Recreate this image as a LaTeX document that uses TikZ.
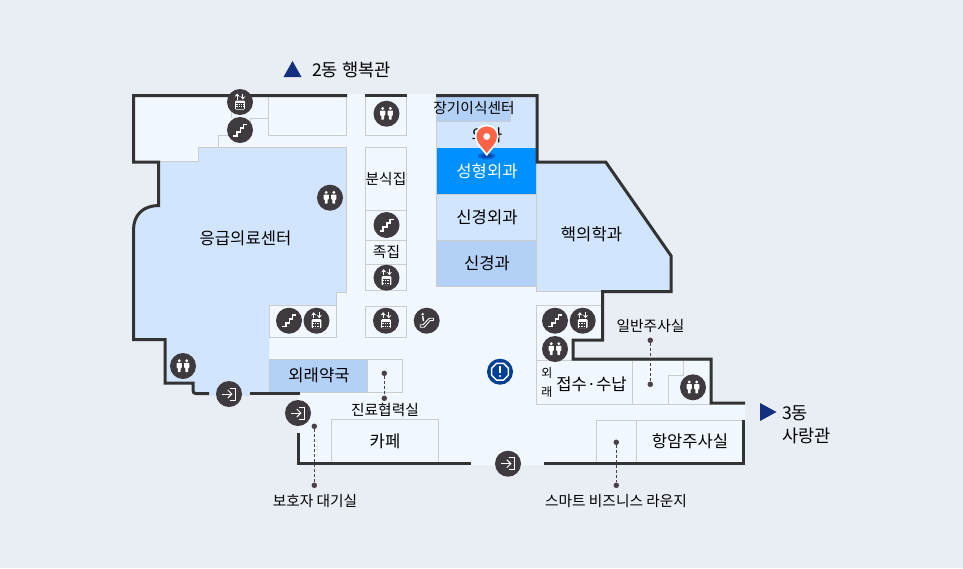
\documentclass[tikz,border=0pt]{standalone}
\usepackage{fontspec}
\setmainfont{Noto Sans CJK KR}
\usetikzlibrary{arrows.meta}
\definecolor{bgc}{HTML}{E9EDF4}
\definecolor{floorc}{HTML}{F1F8FF}
\definecolor{blueA}{HTML}{D1E5FF}
\definecolor{blueB}{HTML}{B3D1F6}
\definecolor{blueC}{HTML}{0090FF}
\definecolor{wallc}{HTML}{333333}
\definecolor{roomc}{HTML}{CCCCCC}
\definecolor{iconc}{HTML}{3E3A3F}
\definecolor{infoc}{HTML}{003F94}
\definecolor{navyc}{HTML}{13307F}
\definecolor{pinc}{HTML}{FF6347}
\definecolor{leadc}{HTML}{4A4148}
\tikzset{
  x=1pt,y=-1pt,
  wall/.style={draw=wallc,line width=3pt,miter limit=10},
  room/.style={draw=roomc,line width=1pt},
  lab/.style={font=\fontsize{16.6}{18}\selectfont,text=black,inner sep=0pt},
  slab/.style={font=\fontsize{14.7}{16}\selectfont,text=black,inner sep=0pt},
  blab/.style={font=\fontsize{17.6}{19}\selectfont,text=black,inner sep=0pt},
  icon/.style={circle,fill=iconc,minimum size=26pt,inner sep=0pt},
  dotn/.style={circle,fill=leadc,minimum size=5.5pt,inner sep=0pt},
  lead/.style={draw=leadc,line width=.9pt,dash pattern=on 3pt off 2pt},
  pics/stairg/.style={code={
    \draw[white,line width=1.8pt,line join=miter] (-7,5.8)--(-3.2,5.8)--(-3.2,1.9)--(.5,1.9)--(.5,-2)--(3.4,-2)--(3.4,-5.6)--(7.2,-5.6);}},
  pics/elevg/.style={code={
    \fill[white,rounded corners=1pt] (-4.8,-1.5) rectangle (4.8,7.5);
    \foreach \yy in {1.6,3.2,4.8,6.2}{\draw[iconc,line width=.35pt] (-3.6,\yy)--(3.6,\yy);}
    \foreach \xx in {-2.2,0,2.2}{\draw[iconc,line width=.35pt] (\xx,1.6)--(\xx,6.2);}
    \draw[white,line width=1pt,-{Stealth[length=3.2pt,width=5pt]}] (-2.8,-2.5)--(-2.8,-8.5);
    \draw[white,line width=1pt,-{Stealth[length=3.2pt,width=5pt]}] (2.8,-8.5)--(2.8,-2.5);}},
  pics/toiletg/.style={code={
    \foreach \xx in {-3.8,3.8}{
      \fill[white] (\xx,-5.3) circle (1.6);
      \fill[white,rounded corners=.6pt] (\xx-2.6,-3.2)--(\xx+2.6,-3.2)--(\xx+2.6,1.8)--(\xx+1.4,1.8)--(\xx+1.4,6)--(\xx-1.4,6)--(\xx-1.4,1.8)--(\xx-2.6,1.8)--cycle;}}},
  pics/exitg/.style={code={
    \draw[white,line width=1pt,-{Straight Barb[length=4pt,width=8pt]}] (-7,0)--(3.5,0);
    \draw[white,line width=1pt] (.5,-6)--(6.5,-6)--(6.5,6)--(.5,6);}},
  pics/escg/.style={code={
    \draw[white,line width=.9pt,line join=round] (-6.5,4)--(-3.5,4)--(2.5,-2.5)--(6.8,-2.5)--(6.8,-.2)--(3.5,-.2)--(-2.5,6.5)--(-6.5,6.5)--cycle;
    \fill[white] (-4,-6.5) circle (1.3);
    \draw[white,line width=1.4pt] (-4,-4.6)--(-3.2,.5);}}
}
\begin{document}
\begin{tikzpicture}
\useasboundingbox (0,0) rectangle (963,568);
\fill[bgc] (0,0) rectangle (963,568);
% floor
\fill[floorc] (133.5,95.5)--(347,95.5)--(347,94)--(436,94)--(436,95.5)--(537,95.5)--(537,162)--(605.7,162)--(671,255.7)--(671,291.7)--(602.7,291.7)--(602.7,340)--(573,340)--(573,359)--(711,359)--(711,403)--(745,403)--(745,463.5)--(544,463.5)--(544,465)--(471,465)--(471,463.5)--(298,463.5)--(298,393.5)--(193,393.5)--(193,383)--(165,383)--(165,339.5)--(133.5,339.5)--(133.5,230) .. controls (133.5,215) and (143,205.6) .. (158.5,205.6)--(158.5,162)--(133.5,162)--cycle;
% blue zones
\fill[blueA] (158.5,162)--(198,162)--(198,147.5)--(346.7,147.5)--(346.7,292.3)--(336.7,292.3)--(336.7,305)--(269.3,305)--(269.3,393.5)--(250,393.5)--(250,396)--(209,396)--(209,393.5)--(193,393.5)--(193,383)--(165,383)--(165,339.5)--(133.5,339.5)--(133.5,230) .. controls (133.5,215) and (143,205.6) .. (158.5,205.6)--cycle;
\fill[blueA] (436,95.5) rectangle (537,148);
\fill[blueB] (436,97) rectangle (510.7,121.7);
\draw[roomc,line width=.8pt] (436,121.7)--(510.7,121.7)--(510.7,97);
\fill[blueC] (436,148) rectangle (536,194);
\fill[blueA] (436,194) rectangle (536,240);
\fill[blueB] (436,240) rectangle (536,286.3);
\fill[blueA] (536,163)--(605.7,163)--(671,255.7)--(671,291.7)--(536,291.7)--cycle;
\fill[blueB] (269.3,359) rectangle (367.7,392.3);
% room lines
\draw[room] (436,95.5)--(436,286.3)--(536,286.3);
\draw[room] (436,194)--(536,194) (436,240)--(536,240);
\draw[room] (536,163)--(536,291.7)--(602.7,291.7);
\draw[room] (158.5,161.5)--(198,161.5)--(198,147.5)--(346.7,147.5)--(346.7,292.3)--(336.7,292.3)--(336.7,337.3)--(269.3,337.3)--(269.3,305)--(336.7,305);
\draw[room] (231.7,95)--(231.7,118);
\draw[room] (268.3,95)--(268.3,135)--(346.7,135)--(346.7,95);
\draw[room] (250,125)--(250,118)--(268.3,118);
\draw[room] (228,135.7)--(218,135.7)--(218,147.5);
\draw[room] (365.5,95) rectangle (406.7,135);
\draw[room] (365.5,147.3) rectangle (406.7,290.3);
\draw[room] (365.5,210)--(406.7,210) (365.5,240)--(406.7,240) (365.5,264.3)--(406.7,264.3);
\draw[room] (365.3,306) rectangle (406.7,337.3);
\draw[room] (269.3,359) rectangle (402.3,392.3);
\draw[room] (367.7,359)--(367.7,392.3);
\draw[room] (331.3,463)--(331.3,419.3)--(438.3,419.3)--(438.3,463);
\draw[room] (536.3,360)--(536.3,305.3)--(602.7,305.3);
\draw[room] (536.3,360)--(573,360);
\draw[room] (536.3,360)--(536.3,404.3)--(711,404.3);
\draw[room] (573,360)--(711,360);
\draw[room] (632.3,360)--(632.3,404.3);
\draw[room] (668.3,404.3)--(668.3,375.3)--(683.3,375.3)--(683.3,360);
\draw[room] (596.3,463)--(596.3,420.3)--(744,420.3);
\draw[room] (636.3,420.3)--(636.3,463);
% walls
\draw[wall] (347,95.5)--(133.5,95.5)--(133.5,162)--(158.5,162)--(158.5,205.6) .. controls (143,205.6) and (133.5,215) .. (133.5,230)--(133.5,339.5)--(165,339.5)--(165,383)--(193,383)--(193,390.5) .. controls (193,392.5) and (194,393.5) .. (196,393.5)--(209,393.5);
\draw[wall] (250,393.5)--(299.5,393.5);
\draw[wall] (365,95.5)--(407,95.5);
\draw[wall] (436,95.5)--(537,95.5)--(537,162)--(605.7,162)--(671,255.7)--(671,291.7)--(602.7,291.7)--(602.7,340)--(573,340)--(573,359)--(711,359)--(711,403)--(745,403);
\draw[wall] (743.5,420)--(743.5,463.5)--(544,463.5);
\draw[wall] (471,463.5)--(298,463.5)--(298,433);
% icons
\node[icon] (el1) at (240,102) {}; \pic at (el1) {elevg};
\node[icon] (st1) at (240,130) {}; \pic at (st1) {stairg};
\node[icon] (to1) at (386.5,113.7) {}; \pic at (to1) {toiletg};
\node[icon] (to2) at (330,197.7) {}; \pic at (to2) {toiletg};
\node[icon] (st2) at (386.5,225) {}; \pic at (st2) {stairg};
\node[icon] (el2) at (386.5,277.7) {}; \pic at (el2) {elevg};
\node[icon] (st3) at (289,320.7) {}; \pic at (st3) {stairg};
\node[icon] (el3) at (316.5,320.7) {}; \pic at (el3) {elevg};
\node[icon] (el4) at (386,320.7) {}; \pic at (el4) {elevg};
\node[icon] (es1) at (426.7,320.7) {}; \pic at (es1) {escg};
\node[icon] (to3) at (183,366) {}; \pic at (to3) {toiletg};
\node[icon] (ex1) at (229,394) {}; \pic at (ex1) {exitg};
\node[icon] (ex2) at (298,413) {}; \pic at (ex2) {exitg};
\node[icon] (ex3) at (508,463.7) {}; \pic at (ex3) {exitg};
\node[icon] (st4) at (555,320.7) {}; \pic at (st4) {stairg};
\node[icon] (el5) at (582.7,320.7) {}; \pic at (el5) {elevg};
\node[icon] (to4) at (555,349) {}; \pic at (to4) {toiletg};
\node[icon] (to5) at (693,387.3) {}; \pic at (to5) {toiletg};
\node[circle,fill=infoc,minimum size=26pt,inner sep=0pt] (inf) at (500,371.7) {};
\draw[white,line width=1.5pt] (496.5,363.3)--(503.5,363.3)--(508.4,368.2)--(508.4,375.2)--(503.5,380.1)--(496.5,380.1)--(491.6,375.2)--(491.6,368.2)--cycle;
\fill[white] (499,366.3) rectangle (501,373);
\fill[white] (500,376) circle (1.2);
% labels
\node[lab] (n1) at (245.5,238.5) {응급의료센터};
\node[slab] (n2) at (386,178.5) {분식집};
\node[slab] (n3) at (386.5,252) {족집};
\node[lab] (n4) at (487,135) {외과};
\node[slab] (n5) at (474,108) {장기이식센터};
\node[lab,text=white] (n6) at (487,171.5) {성형외과};
\node[lab] (n7) at (487,217.5) {신경외과};
\node[lab] (n8) at (487,263.5) {신경과};
\node[lab] (n9) at (591.5,234.5) {핵의학과};
\node[lab] (n10) at (319,375.5) {외래약국};
\node[lab] (n11) at (385,441) {카페};
\node[lab] (n12) at (690,441.5) {항암주사실};
\node[lab] (n13) at (591.5,384.5) {접수·수납};
\node[font=\fontsize{12}{14}\selectfont,inner sep=0pt] (n14) at (547,373) {외};
\node[font=\fontsize{12}{14}\selectfont,inner sep=0pt] (n15) at (547,392) {래};
\node[slab] (n16) at (385,410) {진료협력실};
\node[slab] (n17) at (315,500.5) {보호자 대기실};
\node[slab] (n18) at (650.5,325.5) {일반주사실};
\node[slab] (n19) at (616,500.5) {스마트 비즈니스 라운지};
\node[blab,anchor=west] (n20) at (312,70) {2동 행복관};
\node[blab,anchor=west] (n21) at (782,413.5) {3동};
\node[blab,anchor=west] (n22) at (782,435.5) {사랑관};
% direction triangles
\fill[navyc] (292.5,61)--(301.5,77)--(283.5,77)--cycle;
\fill[navyc] (760,403)--(776.5,412)--(760,421)--cycle;
% leaders
\node[dotn] (d1) at (384.3,373.3) {}; \node[dotn] (d2) at (384.3,398.3) {};
\node[dotn] (d3) at (314.3,426.3) {}; \node[dotn] (d4) at (314.3,485.3) {};
\node[dotn] (d5) at (650.3,340.3) {}; \node[dotn] (d6) at (650.3,384.3) {};
\node[dotn] (d7) at (616.3,442.3) {}; \node[dotn] (d8) at (616.3,485.3) {};
\draw[lead] (d1)--(d2); \draw[lead] (d3)--(d4); \draw[lead] (d5)--(d6); \draw[lead] (d7)--(d8);
% pin
\fill[black!60!blue,opacity=.25] (486.7,156) ellipse (9 and 3.5);
\fill[black!60!blue,opacity=.35] (486.7,156) ellipse (6 and 2);
\draw[white,line width=1.6pt,fill=pinc,line join=round] (486.7,155) .. controls (483,149) and (475.5,143.5) .. (475.5,136.5) .. controls (475.5,130) and (480.5,125.5) .. (486.7,125.5) .. controls (493,125.5) and (498,130) .. (498,136.5) .. controls (498,143.5) and (490.5,149) .. (486.7,155) -- cycle;
\fill[white] (486.7,136.5) circle (3.4);
\end{tikzpicture}
\end{document}
